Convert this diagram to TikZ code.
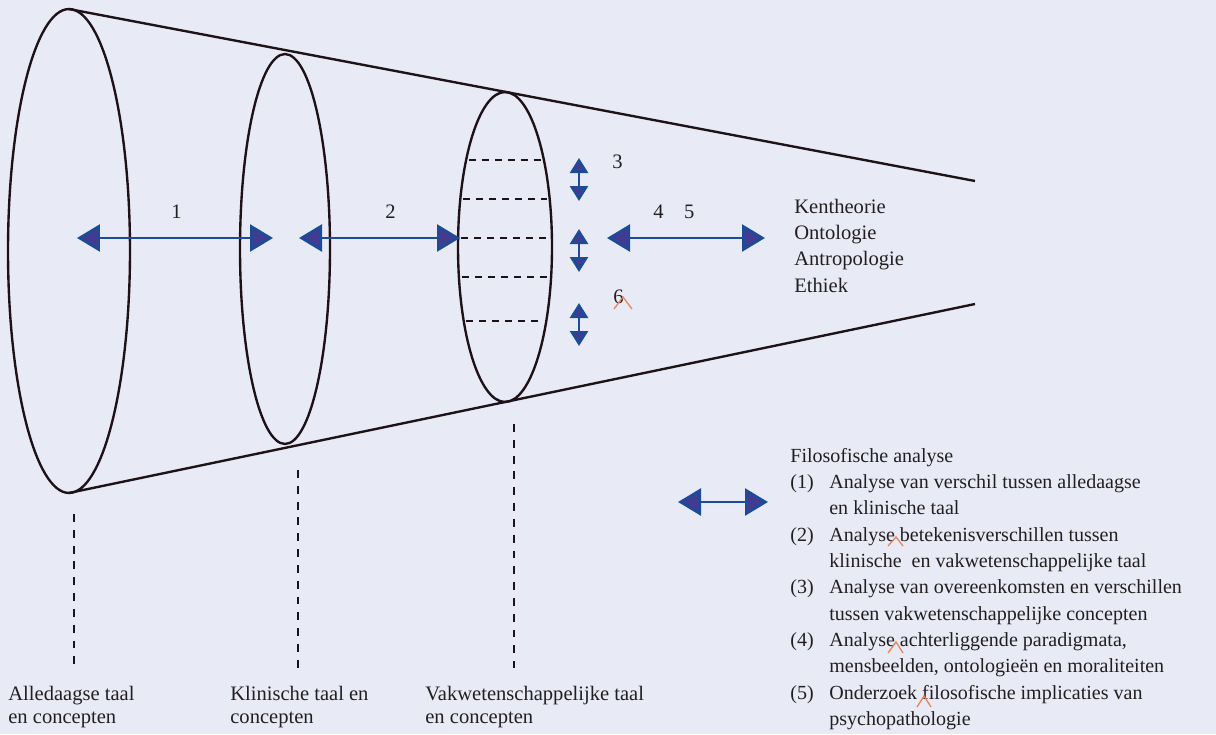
\documentclass[tikz,border=0pt]{standalone}
\usepackage{fontspec}
\setmainfont{Liberation Serif}
\usetikzlibrary{arrows.meta,shapes.geometric}
\definecolor{bgcol}{RGB}{232,234,245}
\definecolor{conecol}{RGB}{30,18,24}
\definecolor{arrowblue}{RGB}{28,76,152}
\definecolor{arrowfill}{RGB}{67,58,145}
\definecolor{caretcol}{RGB}{232,128,80}
\definecolor{textcol}{RGB}{35,31,32}
\tikzset{disc/.style={draw=conecol, line width=1.35pt, ellipse, inner sep=0pt, outer sep=0pt},
         coneline/.style={draw=conecol, line width=1.35pt},
         dashline/.style={draw=conecol, line width=1.1pt, dash pattern=on 4pt off 3.4pt},
         guide/.style={draw=conecol, line width=1.5pt, dash pattern=on 4.5pt off 4.5pt},
         wide arrow/.style={draw=arrowblue, line width=1.5pt,
           {Triangle[length=0.46cm,width=0.54cm,fill=arrowfill]}-{Triangle[length=0.46cm,width=0.54cm,fill=arrowfill]}},
         small arrow/.style={draw=arrowblue, line width=1.5pt,
           {Triangle[length=0.3cm,width=0.36cm,fill=arrowfill]}-{Triangle[length=0.3cm,width=0.36cm,fill=arrowfill]}},
         caret/.style={draw=caretcol, line width=0.7pt},
         txt/.style={text=textcol, inner sep=0pt, anchor=base west, font=\fontsize{11.7}{15}\selectfont}}

\begin{document}
\begin{tikzpicture}[x=0.02cm, y=-0.02cm]
  \useasboundingbox[fill=bgcol] (0,0) rectangle (1216,734);

  % the cone
  \node[disc, minimum width=2.44cm, minimum height=9.68cm] (e1) at (69,251) {};
  \node[disc, minimum width=1.8cm, minimum height=7.8cm] (e2) at (285,249) {};
  \node[disc, minimum width=1.88cm, minimum height=6.2cm] (e3) at (505,247) {};
  \coordinate (ctop) at (975,181);
  \coordinate (cbot) at (975,304);
  \draw[coneline] (e1.north) -- (ctop);
  \draw[coneline] (e1.south) -- (cbot);

  % concepts inside the third disc
  \foreach \yy in {160,199,238,277,321}{
    \pgfmathsetmacro{\hw}{44*sqrt(1-((\yy-247)/155)^2)}
    \draw[dashline] ({505-\hw},\yy) -- ({505+\hw},\yy);
  }

  % guides to the labels
  \coordinate (g1t) at (74,514);  \coordinate (g1b) at (74,668);
  \coordinate (g2t) at (298,470); \coordinate (g2b) at (298,668);
  \coordinate (g3t) at (514,424); \coordinate (g3b) at (514,668);
  \draw[guide] (g1t) -- (g1b);
  \draw[guide] (g2t) -- (g2b);
  \draw[guide] (g3t) -- (g3b);

  % arrows
  \coordinate (a1l) at (77,238);  \coordinate (a1r) at (273,238);
  \coordinate (a2l) at (299,238); \coordinate (a2r) at (460,238);
  \coordinate (a3l) at (607,238); \coordinate (a3r) at (765,238);
  \draw[wide arrow] (a1l) -- (a1r);
  \draw[wide arrow] (a2l) -- (a2r);
  \draw[wide arrow] (a3l) -- (a3r);
  \coordinate (v1t) at (579,158); \coordinate (v1b) at (579,201);
  \coordinate (v2t) at (579,229); \coordinate (v2b) at (579,272);
  \coordinate (v3t) at (579,303); \coordinate (v3b) at (579,346);
  \draw[small arrow] (v1t) -- (v1b);
  \draw[small arrow] (v2t) -- (v2b);
  \draw[small arrow] (v3t) -- (v3b);

  % numbers
  \node[txt] (n1) at (171,218) {1};
  \node[txt] (n2) at (385,218) {2};
  \node[txt] (n3) at (612,168) {3};
  \node[txt] (n45) at (653,218) {4\quad5};
  \node[txt] (n6) at (613,303) {6};
  \draw[caret] (614,309) -- (623,297) -- (632,309);

  % philosophy fields
  \node[txt] (fields) at (794,213) {\begin{tabular}[t]{@{}l@{}}
    Kentheorie\\ Ontologie\\ Antropologie\\ Ethiek\end{tabular}};

  % bottom labels
  \node[txt, font=\fontsize{11.7}{13.6}\selectfont] (lab1) at (8,700) {\begin{tabular}[t]{@{}l@{}}
    Alledaagse taal\\ en concepten\end{tabular}};
  \node[txt, font=\fontsize{11.7}{13.6}\selectfont] (lab2) at (230,700) {\begin{tabular}[t]{@{}l@{}}
    Klinische taal en\\ concepten\end{tabular}};
  \node[txt, font=\fontsize{11.7}{13.6}\selectfont] (lab3) at (425,700) {\begin{tabular}[t]{@{}l@{}}
    Vakwetenschappelijke taal\\ en concepten\end{tabular}};

  % legend
  \coordinate (lgl) at (678,502); \coordinate (lgr) at (768,502);
  \draw[wide arrow] (lgl) -- (lgr);
  \node[txt, font=\fontsize{11.4}{15}\selectfont] (legend) at (790,462) {\begin{tabular}[t]{@{}p{0.78cm}@{}l@{}}
    \multicolumn{2}{@{}l@{}}{Filosofische analyse}\\
    (1) & Analyse van verschil tussen alledaagse\\
        & en klinische taal\\
    (2) & Analyse betekenisverschillen tussen\\
        & klinische~ en vakwetenschappelijke taal\\
    (3) & Analyse van overeenkomsten en verschillen\\
        & tussen vakwetenschappelijke concepten\\
    (4) & Analyse achterliggende paradigmata,\\
        & mensbeelden, ontologieën en moraliteiten\\
    (5) & Onderzoek filosofische implicaties van\\
        & psychopathologie
    \end{tabular}};
  \draw[caret] (888,546) -- (896,537) -- (903,546);
  \draw[caret] (888,653) -- (896,642) -- (903,653);
  \draw[caret] (917,707) -- (924,696) -- (931,707);
\end{tikzpicture}
\end{document}
